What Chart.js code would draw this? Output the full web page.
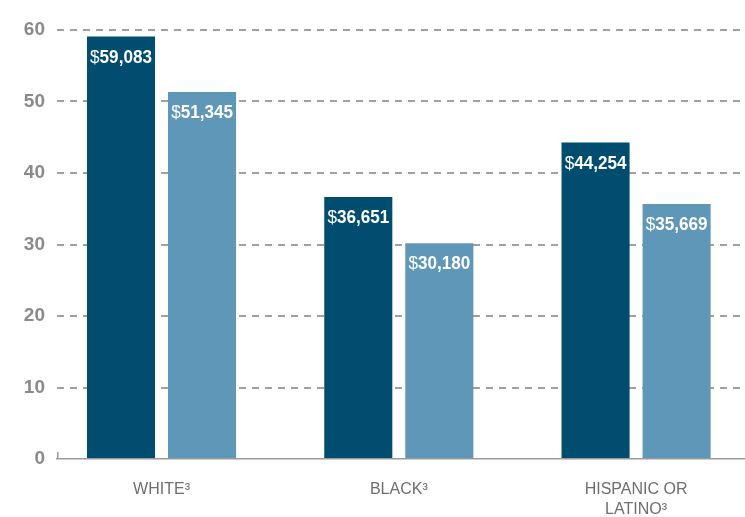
<!DOCTYPE html>
<html>
<head>
<meta charset="utf-8">
<script src="https://cdn.jsdelivr.net/npm/chart.js@4.4.1/dist/chart.umd.min.js"></script>
<style>
  html, body { margin: 0; padding: 0; background: #fff; overflow: hidden; }
  #wrap { width: 745px; height: 517px; position: relative; }
</style>
</head>
<body>
<div id="wrap"><canvas id="incomeChart"></canvas></div>
<script>
// values in thousands of dollars
const categories = [['WHITE³'], ['BLACK³'], ['HISPANIC OR', 'LATINO³']];
const darkValues = [59.083, 36.651, 44.254];
const lightValues = [51.345, 30.180, 35.669];
const yTicks = [0, 10, 20, 30, 40, 50, 60];

const DARK = '#014d70';
const LIGHT = '#5f97b8';
const GRID = '#9a9a9a';
const LABEL_FONT = '"Liberation Sans", Arial, sans-serif';

const toPoints = vals => vals.map((v, i) => ({ x: i, y: v }));

// "$" in regular weight, digits in bold, white, near top of each bar (squeezed a bit)
const barLabels = {
  id: 'barLabels',
  afterDatasetsDraw(chart) {
    const ctx = chart.ctx;
    chart.data.datasets.forEach((ds, di) => {
      chart.getDatasetMeta(di).data.forEach((bar, i) => {
        const num = Math.round(ds.data[i].y * 1000).toLocaleString('en-US');
        ctx.save();
        ctx.translate(bar.x, bar.y + 21);
        ctx.scale(0.9, 1);
        ctx.fillStyle = '#ffffff';
        ctx.textBaseline = 'middle';
        ctx.textAlign = 'left';
        ctx.font = '19px ' + LABEL_FONT;
        const wDollar = ctx.measureText('$').width;
        ctx.font = 'bold 19px ' + LABEL_FONT;
        const wNum = ctx.measureText(num).width;
        const start = -(wDollar + wNum) / 2;
        ctx.font = '19px ' + LABEL_FONT;
        ctx.fillText('$', start, 0);
        ctx.font = 'bold 19px ' + LABEL_FONT;
        ctx.fillText(num, start + wDollar, 0);
        ctx.restore();
      });
    });
  }
};

// little upward tick where the baseline starts
const baseTick = {
  id: 'baseTick',
  afterDraw(chart) {
    const { ctx, chartArea } = chart;
    ctx.save();
    ctx.strokeStyle = GRID;
    ctx.lineWidth = 1.5;
    ctx.beginPath();
    ctx.moveTo(chartArea.left + 0.75, chartArea.bottom);
    ctx.lineTo(chartArea.left + 0.75, chartArea.bottom - 7);
    ctx.stroke();
    ctx.restore();
  }
};

const ctx = document.getElementById('incomeChart').getContext('2d');
new Chart(ctx, {
  type: 'bar',
  data: {
    datasets: [
      { data: toPoints(darkValues), backgroundColor: DARK },
      { data: toPoints(lightValues), backgroundColor: LIGHT }
    ]
  },
  options: {
    responsive: true,
    maintainAspectRatio: false,
    animation: false,
    categoryPercentage: 0.683,
    barPercentage: 0.84,
    layout: { padding: { top: 30, left: 0, right: 0, bottom: 0 } },
    plugins: { legend: { display: false }, tooltip: { enabled: false } },
    scales: {
      x: {
        type: 'linear',
        bounds: 'data',
        offset: false,
        min: -0.4405,
        max: 2.459,
        afterBuildTicks: axis => { axis.ticks = categories.map((c, i) => ({ value: i })); },
        afterFit: axis => { axis.height = 58; },
        grid: { display: false },
        border: { display: true, color: GRID, width: 1.5 },
        ticks: {
          autoSkip: false,
          maxRotation: 0,
          padding: 13,
          color: '#6e6e6e',
          font: { family: LABEL_FONT, size: 16, lineHeight: 1.25 },
          callback: v => categories[v] || ''
        }
      },
      y: {
        min: yTicks[0],
        max: yTicks[yTicks.length - 1],
        afterBuildTicks: axis => { axis.ticks = yTicks.map(v => ({ value: v })); },
        afterFit: axis => { axis.width = 57; },
        grid: {
          drawTicks: false,
          lineWidth: 2,
          color: c => c.tick && c.tick.value === 0 ? 'rgba(0,0,0,0)' : '#a0a0a0'
        },
        border: { display: false, dash: [7, 6] },
        ticks: {
          padding: 12,
          color: '#8a8a8a',
          font: { family: LABEL_FONT, size: 19, weight: 'bold' }
        }
      }
    }
  },
  plugins: [barLabels, baseTick]
});
</script>
</body>
</html>
